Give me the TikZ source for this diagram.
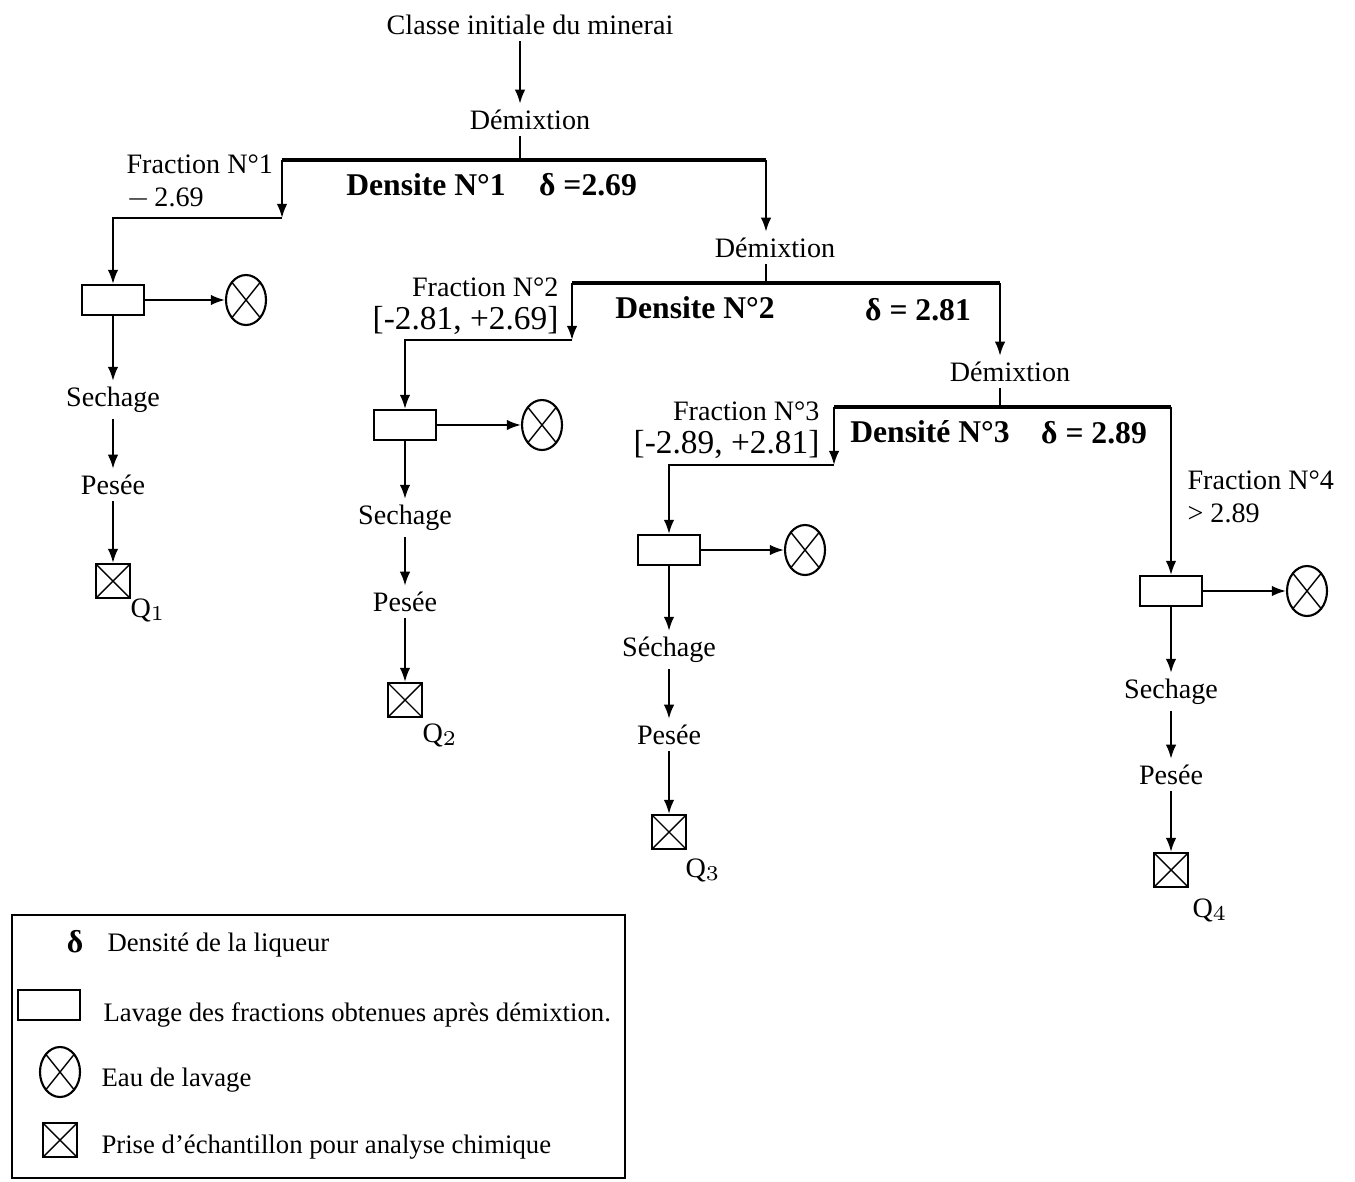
\documentclass[tikz,border=0pt]{standalone}
\usepackage{fontspec}
\setmainfont{Liberation Serif}
\usetikzlibrary{arrows.meta, shapes.geometric}

\tikzset{
  lav/.style={draw, rectangle, minimum width=0.62cm, minimum height=0.30cm, inner sep=0pt},
  eau/.style={draw, ellipse, minimum width=0.40cm, minimum height=0.50cm, inner sep=0pt,
    path picture={\draw[line width=0.4pt] (path picture bounding box.north west) -- (path picture bounding box.south east)
      (path picture bounding box.south west) -- (path picture bounding box.north east);}},
  ech/.style={draw, rectangle, minimum size=0.34cm, inner sep=0pt,
    path picture={\draw[line width=0.4pt] (path picture bounding box.north west) -- (path picture bounding box.south east)
      (path picture bounding box.south west) -- (path picture bounding box.north east);}},
  fl/.style={-{Latex[length=4pt,width=3pt]}},
  sep/.style={line width=0.9pt},
  dens/.style={font=\fontsize{9}{11}\selectfont\bfseries},
  frac/.style={align=left, inner sep=1pt},
  leg/.style={anchor=west, inner sep=1pt, font=\fontsize{7.6}{9}\selectfont},
}

\begin{document}
\begin{tikzpicture}[x=1cm, y=-1cm, line width=0.6pt, font=\fontsize{8}{9.5}\selectfont,
  every node/.append style={inner sep=1.5pt}]
\useasboundingbox (0,0) rectangle (13.55,11.81);

% separation 1
\node (title) at (5.30,0.25) {Classe initiale du minerai};
\node (dem1) at (5.30,1.20) {Démixtion};
\node[frac, anchor=west] (frac1) at (1.22,1.82) {Fraction N°1\\$-$\,2.69};
\node[dens] (dn1) at (4.26,1.85) {Densite N°1};
\node[dens] (dv1) at (5.88,1.85) {δ =2.69};
\coordinate (s1) at (5.20,1.60);
\coordinate (s1l) at (2.82,1.60);
\coordinate (s1r) at (7.66,1.60);
\coordinate (k1) at (2.82,2.18);
\coordinate (k1b) at (1.13,2.18);

% fraction 1
\node[lav] (box1) at (1.13,3.00) {};
\node[eau] (eau1) at (2.46,3.00) {};
\node (sech1) at (1.13,4.00) {Sechage};
\node (pes1) at (1.13,4.85) {Pesée};
\node[ech] (ech1) at (1.13,5.81) {};
\node (q1) at (1.48,6.10) {Q$_1$};

% separation 2
\node (dem2) at (7.75,2.48) {Démixtion};
\node[frac, anchor=east, align=right] (frac2) at (5.63,3.06) {Fraction N°2\\{\fontsize{9.5}{11}\selectfont[-2.81, +2.69]}};
\node[dens] (dn2) at (6.95,3.08) {Densite N°2};
\node[dens] (dv2) at (9.18,3.10) {δ = 2.81};
\coordinate (s2) at (7.66,2.83);
\coordinate (s2l) at (5.72,2.83);
\coordinate (s2r) at (10.00,2.83);
\coordinate (k2) at (5.72,3.40);
\coordinate (k2b) at (4.05,3.40);

% fraction 2
\node[lav] (box2) at (4.05,4.25) {};
\node[eau] (eau2) at (5.42,4.25) {};
\node (sech2) at (4.05,5.18) {Sechage};
\node (pes2) at (4.05,6.02) {Pesée};
\node[ech] (ech2) at (4.05,7.00) {};
\node (q2) at (4.40,7.35) {Q$_2$};

% separation 3
\node (dem3) at (10.10,3.72) {Démixtion};
\node[frac, anchor=east, align=right] (frac3) at (8.24,4.30) {Fraction N°3\\{\fontsize{9.5}{11}\selectfont[-2.89, +2.81]}};
\node[dens] (dn3) at (9.30,4.32) {Densité N°3};
\node[dens] (dv3) at (10.94,4.33) {δ = 2.89};
\coordinate (s3) at (10.00,4.07);
\coordinate (s3l) at (8.34,4.07);
\coordinate (s3r) at (11.71,4.07);
\coordinate (k3) at (8.34,4.65);
\coordinate (k3b) at (6.69,4.65);

% fraction 3
\node[lav] (box3) at (6.69,5.50) {};
\node[eau] (eau3) at (8.05,5.50) {};
\node (sech3) at (6.69,6.50) {Séchage};
\node (pes3) at (6.69,7.35) {Pesée};
\node[ech] (ech3) at (6.69,8.32) {};
\node (q3) at (7.03,8.70) {Q$_3$};

% fraction 4
\node[frac, anchor=west] (frac4) at (11.83,4.97) {Fraction N°4\\> 2.89};
\node[lav] (box4) at (11.71,5.91) {};
\node[eau] (eau4) at (13.07,5.91) {};
\node (sech4) at (11.71,6.92) {Sechage};
\node (pes4) at (11.71,7.75) {Pesée};
\node[ech] (ech4) at (11.71,8.70) {};
\node (q4) at (12.10,9.10) {Q$_4$};

% connectors
\draw[fl] (title.south -| s1) -- (dem1.north -| s1);
\draw (dem1.south -| s1) -- (s1);
\draw[sep] (s1l) -- (s1r);
\draw[fl] (s1l) -- (k1);
\draw[fl] (k1) -- (k1b) -- (box1);
\draw[fl] (s1r) -- (dem2.north -| s1r);
\draw (dem2.south -| s1r) -- (s2);
\draw[sep] (s2l) -- (s2r);
\draw[fl] (s2l) -- (k2);
\draw[fl] (k2) -- (k2b) -- (box2);
\draw[fl] (s2r) -- (dem3.north -| s2r);
\draw (dem3.south -| s3) -- (s3);
\draw[sep] (s3l) -- (s3r);
\draw[fl] (s3l) -- (k3);
\draw[fl] (k3) -- (k3b) -- (box3);
\draw[fl] (s3r) -- (box4);

\foreach \i in {1,2,3,4} {
  \draw[fl] (box\i) -- (eau\i);
  \draw[fl] (box\i) -- (sech\i);
  \draw[fl] (sech\i) -- (pes\i);
  \draw[fl] (pes\i) -- (ech\i);
}

% legende
\draw (0.12,9.15) rectangle (6.25,11.78);
\node[font=\fontsize{9}{11}\selectfont\bfseries] (ldelta) at (0.75,9.42) {δ};
\node[leg] (tdelta) at (1.03,9.45) {Densité de la liqueur};
\node[lav] (llav) at (0.49,10.05) {};
\node[leg] (tlav) at (0.99,10.15) {Lavage des fractions obtenues après démixtion.};
\node[eau] (leau) at (0.60,10.72) {};
\node[leg] (teau) at (0.97,10.80) {Eau de lavage};
\node[ech] (lech) at (0.60,11.40) {};
\node[leg] (tech) at (0.97,11.47) {Prise d'échantillon pour analyse chimique};
\end{tikzpicture}
\end{document}
